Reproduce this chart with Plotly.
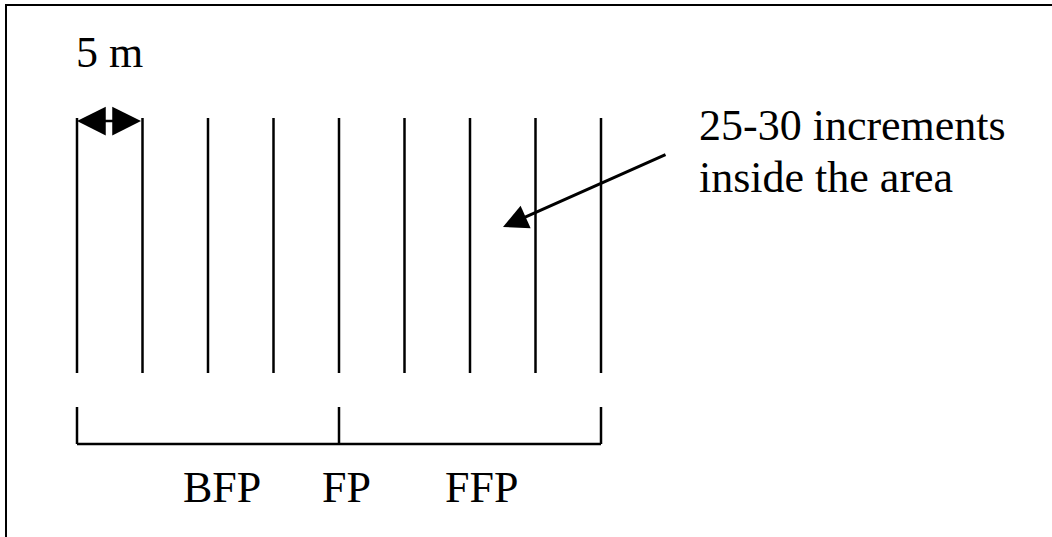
import plotly.graph_objects as go

# ---- data (metres along the transect) ----
line_positions_m = [0, 5, 10, 15, 20, 25, 30, 35, 40]   # sampling lines every 5 m
bracket_ticks_m = [0, 20, 40]                           # section boundaries
section_labels = ["BFP", "FP", "FFP"]
spacing_label = "5 m"
spacing_m = 5
note_lines = ["25-30 increments", "inside the area"]

# ---- layout constants ----
W, H = 1052, 537
ML, MT = 7, 6                 # frame (axis lines) position in px
PX_PER_M = 13.1
X0_PX = 77
label_x_m = [11.1, 20.6, 30.9]
LINE_TOP, LINE_BOT = 118, 373
BR_TOP, BR_BOT = 407, 444
DARROW_Y = 121
LABEL_Y = 487
FONT = "Liberation Serif, Times New Roman, serif"
FS = 44

fig = go.Figure()

# vertical sampling lines
xs, ys = [], []
for p in line_positions_m:
    xs += [p, p, None]
    ys += [LINE_TOP, LINE_BOT, None]
fig.add_trace(go.Scatter(x=xs, y=ys, mode="lines",
                         line=dict(color="black", width=2.5),
                         hoverinfo="skip", showlegend=False))

# bracket
bx, by = [], []
for t in bracket_ticks_m:
    bx += [t, t, None]
    by += [BR_TOP, BR_BOT, None]
bx += [bracket_ticks_m[0], bracket_ticks_m[-1]]
by += [BR_BOT, BR_BOT]
fig.add_trace(go.Scatter(x=bx, y=by, mode="lines",
                         line=dict(color="black", width=2.5),
                         hoverinfo="skip", showlegend=False))

ann = []
# double arrow for spacing
ann.append(dict(x=line_positions_m[0], y=DARROW_Y, ax=line_positions_m[0] + spacing_m, ay=DARROW_Y,
                xref="x", yref="y", axref="x", ayref="y", text="", showarrow=True,
                arrowhead=2, startarrowhead=2, arrowside="end+start",
                arrowwidth=2.5, arrowsize=2.3, startarrowsize=2.3, arrowcolor="black"))
ann.append(dict(x=line_positions_m[0] + spacing_m / 2, y=52, xref="x", yref="y",
                text=spacing_label, showarrow=False,
                font=dict(family=FONT, size=FS, color="black")))

# pointer arrow
tip_x_m = (503 - X0_PX) / PX_PER_M
tail_x_m = (667 - X0_PX) / PX_PER_M
ann.append(dict(x=tip_x_m, y=227, ax=tail_x_m, ay=154,
                xref="x", yref="y", axref="x", ayref="y", text="", showarrow=True,
                arrowhead=2, arrowwidth=3, arrowsize=1.65, arrowcolor="black"))

# note text
note_x_m = (697 - X0_PX) / PX_PER_M
for txt, yy in zip(note_lines, [125, 177]):
    ann.append(dict(x=note_x_m, y=yy, xref="x", yref="y", xanchor="left",
                    text=txt, showarrow=False,
                    font=dict(family=FONT, size=FS, color="black")))

# section labels
for lab, lx in zip(section_labels, label_x_m):
    ann.append(dict(x=lx, y=LABEL_Y, xref="x", yref="y", text=lab, showarrow=False,
                    font=dict(family=FONT, size=FS, color="black")))

axis_common = dict(showline=True, linecolor="black", linewidth=2, showgrid=False,
                   zeroline=False, ticks="", showticklabels=False)

fig.update_layout(
    width=W, height=H, margin=dict(l=ML, r=0, t=MT, b=0, pad=0),
    paper_bgcolor="white", plot_bgcolor="white",
    xaxis=dict(range=[(ML - X0_PX) / PX_PER_M, (W - X0_PX) / PX_PER_M], side="top", **axis_common),
    yaxis=dict(range=[H, MT], side="left", **axis_common),
    annotations=ann, showlegend=False,
)

fig.write_html("out.html", config={"displayModeBar": False},
               post_script=("document.documentElement.style.overflow='hidden';"
                            "document.body.style.overflow='hidden';"
                            "document.body.style.margin='0';"))
